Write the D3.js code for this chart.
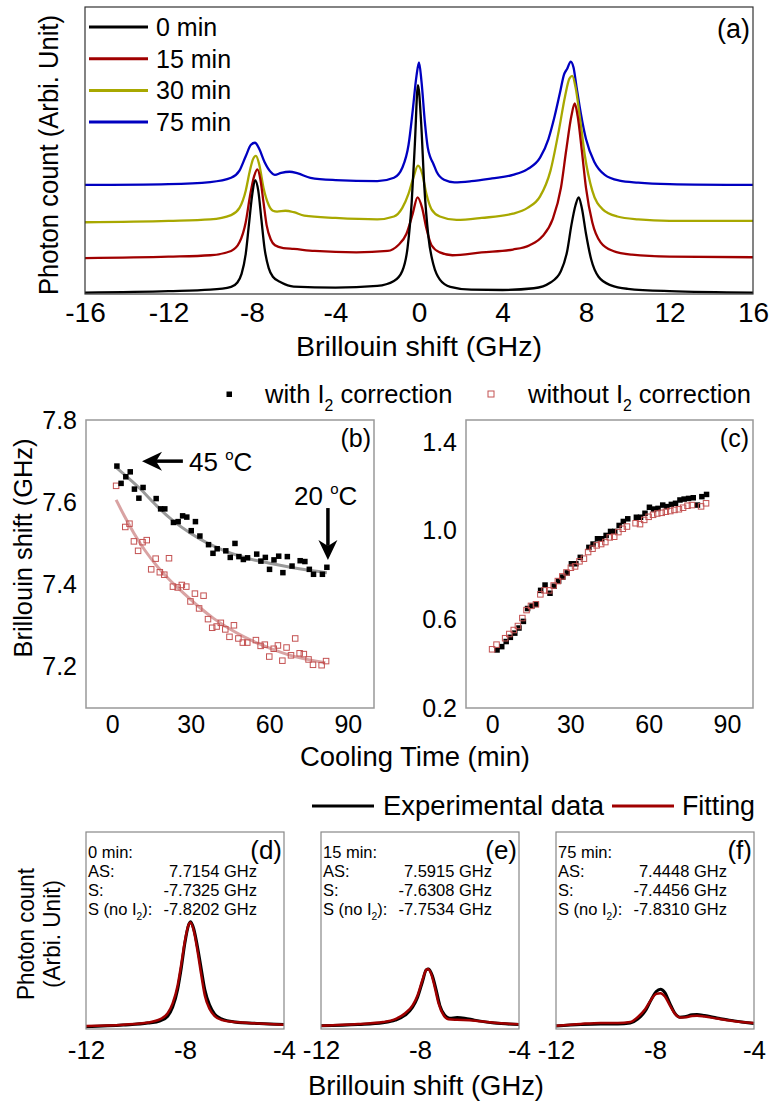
<!DOCTYPE html>
<html>
<head>
<meta charset="utf-8">
<script src="https://cdn.jsdelivr.net/npm/d3@7"></script>
<style>
  body { margin: 0; background: #fff; }
  text { font-family: "Liberation Sans", Arial, sans-serif; fill: #000; }
</style>
</head>
<body>
<div id="fig"></div>
<script>
// ---------- Data: panel (a), spectra [shift GHz, counts arb.] ----------
const seriesNames = ["0 min", "15 min", "30 min", "75 min"];
const seriesColors = ["#000000", "#a00000", "#a8a800", "#0000c0"];

const spec0 = [[-16,0.5],[-12,1],[-10,1.5],[-9,2.5],[-8.7,4],[-8.5,7],[-8.3,14],[-8.15,24],[-8,34],[-7.85,39.7],
  [-7.7,36],[-7.55,26],[-7.4,16],[-7.2,9],[-7,6],[-6.6,4],[-6,2.6],[-4,2.2],[-2,2.8],[-1.2,4.5],[-0.8,8],
  [-0.55,16],[-0.35,32],[-0.2,52],[-0.05,72.8],[0.1,60],[0.25,38],[0.45,20],[0.7,10],[1,5],[1.5,2.5],[2.5,1.5],
  [4,1.4],[5.5,2],[6.3,4],[6.8,8],[7.1,15],[7.3,24],[7.5,31],[7.65,33.7],[7.8,30],[8,21],[8.25,12],[8.6,6],
  [9.2,3],[10,1.8],[12,1],[16,0.5]];
const spec15 = [[-16,12.5],[-12,13],[-10,13.5],[-9,15],[-8.6,18],[-8.3,25],[-8.1,34],[-7.9,41],[-7.74,43.4],
  [-7.6,40],[-7.45,32],[-7.3,24],[-7.1,19],[-6.9,17],[-6.5,16],[-6,15.7],[-5,15],[-3,14.5],[-1.5,15],[-1,17],
  [-0.6,21],[-0.3,28],[-0.07,33.7],[0.15,30],[0.35,23],[0.6,17],[1,14.5],[1.6,13.5],[3,14.5],[4.5,15.5],
  [5.3,17],[5.9,20],[6.4,26],[6.8,37],[7.05,50],[7.3,62],[7.46,66.4],[7.6,62],[7.8,50],[8,37],[8.3,25],
  [8.7,18],[9.3,15],[10.2,13.7],[12,13],[16,12.8]];
const spec30 = [[-16,25],[-12,25.5],[-10,26],[-9,27.5],[-8.6,30],[-8.3,36],[-8.1,43],[-7.95,47],[-7.81,48.1],
  [-7.65,45],[-7.45,37],[-7.2,31],[-7,29],[-6.8,28.7],[-6.4,29],[-6,28.5],[-5.5,27.3],[-4,26.5],[-2,26],
  [-1.2,27],[-0.8,30],[-0.5,35],[-0.25,41],[-0.05,44.7],[0.15,42],[0.35,35],[0.6,29.5],[1,27],[1.8,25.8],
  [3,26.5],[4.5,28],[5.2,30],[5.8,34],[6.3,43],[6.7,57],[7,69],[7.2,75],[7.34,76],[7.5,72],[7.7,62],
  [7.95,48],[8.3,36],[8.8,29.5],[9.5,27],[10.5,26],[12,25.5],[16,25.5]];
const spec75 = [[-16,38],[-12,38.3],[-10,39],[-9,40.5],[-8.6,43],[-8.3,48],[-8.05,52],[-7.86,52.7],[-7.65,50.5],
  [-7.4,46],[-7.1,42.5],[-6.9,41.5],[-6.6,42.2],[-6.2,42.6],[-5.8,42],[-5.2,40.5],[-4,39.7],[-2,39.3],
  [-1.2,40.5],[-0.8,44],[-0.5,52],[-0.3,64],[-0.12,76],[0,80.7],[0.12,74],[0.28,60],[0.42,51],[0.55,47.5],
  [0.68,45.5],[0.85,42.5],[1.2,39.8],[1.7,38.9],[2.5,39.3],[3.5,40.3],[4.5,41.5],[5.2,43.5],[5.8,47.5],
  [6.2,54],[6.5,62],[6.75,70],[6.95,76.5],[7.1,78.5],[7.27,81],[7.4,79],[7.55,72],[7.75,63],[8,54],
  [8.4,46],[8.9,41.5],[9.6,39.5],[10.5,38.8],[12,38.3],[16,38]];
const spectraA = [spec0, spec15, spec30, spec75];
const ticksA = [-16, -12, -8, -4, 0, 4, 8, 12, 16];

// ---------- Data: panel (b), Brillouin shift [min, GHz] ----------
const shiftWithI2 = [[1.8,7.688],[3.4,7.646],[5.2,7.662],[6.9,7.674],[8.5,7.632],[10.2,7.61],[11.8,7.636],
  [16.8,7.609],[18.5,7.584],[20.1,7.584],[23.4,7.551],[25.2,7.553],[26.9,7.567],[28.5,7.564],[30.2,7.531],
  [31.8,7.553],[33.5,7.518],[36.8,7.497],[38.5,7.476],[40.1,7.487],[43.4,7.482],[45.1,7.466],[46.9,7.5],
  [48.4,7.468],[50.1,7.461],[51.7,7.465],[55.2,7.474],[56.8,7.457],[58.5,7.466],[60.1,7.437],[61.8,7.46],
  [63.6,7.469],[65.2,7.429],[66.9,7.468],[68.7,7.445],[71.8,7.458],[73.6,7.456],[75.3,7.437],[76.9,7.425],
  [80.3,7.425],[82,7.442]];
const shiftNoI2 = [[1.5,7.64],[5,7.54],[6.6,7.548],[8.3,7.505],[9.9,7.482],[11.6,7.503],[13.2,7.508],
  [14.9,7.437],[16.6,7.463],[18.2,7.43],[19.9,7.424],[21.7,7.464],[23.2,7.395],[25,7.393],[26.6,7.399],
  [28.3,7.395],[29.9,7.359],[31.6,7.378],[33.2,7.342],[34.9,7.373],[36.6,7.316],[38.2,7.295],[39.9,7.298],
  [41.5,7.307],[43.2,7.291],[44.8,7.273],[46.5,7.301],[48.2,7.269],[49.9,7.259],[51.6,7.259],[54.9,7.265],
  [56.7,7.251],[58.3,7.254],[60,7.225],[61.7,7.244],[63.3,7.252],[65,7.215],[66.6,7.247],[68.3,7.228],
  [69.9,7.269],[71.6,7.233],[73.2,7.231],[75,7.218],[76.7,7.205],[80,7.204],[81.7,7.214]];
const fitWithI2 = [[1.8,7.683],[6,7.66],[10.7,7.634],[17,7.59],[23.4,7.553],[30,7.524],[36.2,7.5],
  [42.5,7.483],[48.9,7.468],[55,7.458],[61.7,7.45],[68,7.442],[74.4,7.435],[82,7.429]];
const fitNoI2 = [[1.5,7.606],[4.5,7.568],[8.2,7.525],[12.5,7.482],[17.1,7.444],[22,7.41],[27.3,7.379],
  [33,7.346],[38.7,7.317],[44.5,7.293],[50.2,7.273],[56,7.256],[61.7,7.241],[66.8,7.23],[71.8,7.221],[81.4,7.21]];
const ticksTime = [0, 30, 60, 90];
const ticksB = [7.2, 7.4, 7.6, 7.8];

// ---------- Data: panel (c) [min, GHz] ----------
const valueWithI2 = [[1.9,0.462],[3.7,0.477],[5.4,0.5],[7,0.519],[8.7,0.538],[10.3,0.561],[12,0.591],
  [13.6,0.649],[15.3,0.661],[16.9,0.668],[18.6,0.731],[20.3,0.755],[22.2,0.718],[23.8,0.75],[25.5,0.773],
  [27.1,0.791],[28.8,0.81],[30.4,0.851],[32.1,0.851],[33.8,0.88],[37.1,0.925],[38.7,0.94],[40.4,0.964],
  [42,0.964],[43.7,0.979],[45.4,0.997],[47,0.997],[48.7,1.024],[50.3,1.042],[52,1.054],[55.3,1.061],
  [56.9,1.061],[58.6,1.079],[60.3,1.106],[61.9,1.098],[63.6,1.101],[65.4,1.116],[67,1.109],[68.7,1.119],
  [70.3,1.124],[72,1.139],[73.6,1.143],[75.3,1.146],[77.1,1.149],[78.7,1.116],[80.4,1.154],[82.2,1.164]];
const valueNoI2 = [[0,0.465],[1.7,0.486],[5,0.515],[6.6,0.534],[8.3,0.552],[9.9,0.57],[11.6,0.606],
  [13.2,0.642],[14.9,0.661],[16.8,0.668],[18.5,0.713],[20.1,0.731],[21.9,0.731],[23.6,0.753],[25.2,0.773],
  [26.9,0.794],[28.5,0.812],[30.2,0.833],[31.8,0.839],[33.5,0.862],[35.2,0.874],[36.8,0.904],[38.5,0.919],
  [40.1,0.934],[41.8,0.94],[43.4,0.949],[45.1,0.97],[46.8,0.973],[48.4,0.994],[50.1,1.009],[51.7,1.019],
  [55,1.034],[56.7,1.03],[58.3,1.049],[60,1.063],[61.7,1.072],[63.3,1.078],[65,1.081],[66.6,1.086],
  [68.3,1.089],[69.9,1.094],[71.6,1.097],[73.2,1.104],[74.9,1.113],[76.6,1.116],[80.1,1.11],[82,1.124]];
const ticksC = [0.2, 0.6, 1.0, 1.4];

// ---------- Data: panels (d)-(f), anti-Stokes region [GHz, counts arb.] ----------
const expD = [[-12,1.2],[-10.5,2],[-9.5,3],[-9,4.2],[-8.7,6.5],[-8.5,11],[-8.3,20],[-8.15,31],[-8,44],
  [-7.85,53],[-7.77,54.5],[-7.65,51],[-7.5,42],[-7.35,31],[-7.2,20],[-7,12],[-6.8,7.5],[-6.5,5],[-6,3.6],
  [-5,2.8],[-4,2.3]];
const fitD = [[-12,1.5],[-10.5,2.2],[-9.5,3.3],[-9,5],[-8.7,8],[-8.5,13],[-8.3,22],[-8.15,33],[-8,45],
  [-7.85,53],[-7.78,54],[-7.65,50],[-7.5,40],[-7.35,28],[-7.2,17],[-7,10],[-6.8,6.5],[-6.5,4.5],[-6,3.5],
  [-5,2.8],[-4,2.2]];
const expE = [[-12,1.7],[-10.5,2.3],[-9.5,3.2],[-9,4.5],[-8.6,7],[-8.3,11],[-8.1,16],[-7.9,24],[-7.75,30],
  [-7.65,30.5],[-7.5,27],[-7.35,20],[-7.2,12],[-7,7],[-6.8,5.5],[-6.5,5.8],[-6.2,5.5],[-5.8,4.5],[-5,3],[-4,2.3]];
const fitE = [[-12,1.6],[-10.5,2.5],[-9.5,3.5],[-9,5],[-8.6,8],[-8.3,12],[-8.1,17],[-7.9,25],[-7.75,30],
  [-7.68,30.5],[-7.55,28],[-7.4,21],[-7.25,13],[-7.05,7],[-6.85,5],[-6.5,4.7],[-6,4.5],[-5,3.2],[-4,2.4]];
const expF = [[-12,1.5],[-11,2.3],[-10.2,2.6],[-9.5,2.5],[-9,3],[-8.7,5],[-8.4,9],[-8.15,15],[-7.95,19],
  [-7.78,20.2],[-7.6,18.5],[-7.4,13],[-7.2,8],[-7,6],[-6.8,6.2],[-6.5,7.2],[-6.3,7.3],[-6,6.8],[-5.5,5.6],
  [-5,4.5],[-4.5,3.6],[-4,2.8]];
const fitF = [[-12,1.6],[-11,2.6],[-10.2,3.1],[-9.5,3],[-9,3.5],[-8.7,6],[-8.4,10],[-8.15,15],[-7.95,17.8],
  [-7.78,18.2],[-7.6,16.5],[-7.4,12],[-7.2,7.8],[-7,5.8],[-6.8,5.9],[-6.5,6.6],[-6.3,6.7],[-6,6.3],[-5.5,5.3],
  [-5,4.3],[-4.5,3.5],[-4,3]];
const panelLabels = ["(d)", "(e)", "(f)"];
const panelTimes = ["0 min:", "15 min:", "75 min:"];
const asValues = ["7.7154 GHz", "7.5915 GHz", "7.4448 GHz"];
const sValues = ["-7.7325 GHz", "-7.6308 GHz", "-7.4456 GHz"];
const sNoI2Values = ["-7.8202 GHz", "-7.7534 GHz", "-7.8310 GHz"];
const expSeries = [expD, expE, expF];
const fitSeries = [fitD, fitE, fitF];
const ticksDF = [-12, -8, -4];

// ---------- Layout ----------
const svgWidth = 772, svgHeight = 1103;
const svg = d3.select("#fig").append("svg")
  .attr("width", svgWidth)
  .attr("height", svgHeight)
  .style("background", "#fff");

const fontFam = '"Liberation Sans", Arial, sans-serif';

// add x axis labels only (no ticks, no domain line)
function bottomLabels(scale, y, values, size, pad, fmt) {
  const g = svg.append("g")
    .attr("transform", `translate(0,${y})`)
    .call(d3.axisBottom(scale).tickValues(values).tickSize(0).tickPadding(pad).tickFormat(fmt));
  g.select(".domain").remove();
  g.attr("font-family", fontFam).attr("font-size", size);
  g.selectAll("text").attr("fill", "#000");
  return g;
}
function leftLabels(scale, x, values, size, pad, fmt) {
  const g = svg.append("g")
    .attr("transform", `translate(${x},0)`)
    .call(d3.axisLeft(scale).tickValues(values).tickSize(0).tickPadding(pad).tickFormat(fmt));
  g.select(".domain").remove();
  g.attr("font-family", fontFam).attr("font-size", size);
  g.selectAll("text").attr("fill", "#000");
  return g;
}
function frame(x0, y0, x1, y1, color, w) {
  svg.append("rect")
    .attr("x", x0).attr("y", y0)
    .attr("width", x1 - x0).attr("height", y1 - y0)
    .attr("fill", "none").attr("stroke", color).attr("stroke-width", w);
}
// text with subscript "2" after "I"
function subText(x, y, size, before, after, anchor) {
  const t = svg.append("text").attr("x", x).attr("y", y)
    .attr("font-size", size).attr("text-anchor", anchor || "start");
  t.append("tspan").text(before);
  t.append("tspan").attr("font-size", size * 0.62).attr("dy", size * 0.3).text("2");
  t.append("tspan").attr("dy", -size * 0.3).text(after);
  return t;
}
const fmtPlain = d => String(d);
const fmt1 = d3.format(".1f");

// ---------- Panel (a) ----------
const xA = d3.scaleLinear().domain([-16, 16]).range([85, 753]);
const yA = d3.scaleLinear().domain([0, 100]).range([294, 7]);
const lineA = d3.line().x(d => xA(d[0])).y(d => yA(d[1])).curve(d3.curveMonotoneX);

for (let i = spectraA.length - 1; i >= 0; i--) {
  svg.append("path").datum(spectraA[i])
    .attr("d", lineA)
    .attr("fill", "none")
    .attr("stroke", seriesColors[i])
    .attr("stroke-width", 2.3);
}
frame(85, 7, 753, 294, "#333", 1.2);
bottomLabels(xA, 294, ticksA, 28, 8, fmtPlain);

svg.append("text").attr("x", 419).attr("y", 356)
  .attr("font-size", 28).attr("text-anchor", "middle")
  .attr("textLength", 246).attr("lengthAdjust", "spacingAndGlyphs")
  .text("Brillouin shift (GHz)");
svg.append("text")
  .attr("transform", "translate(58,155) rotate(-90)")
  .attr("font-size", 27).attr("text-anchor", "middle")
  .attr("textLength", 280).attr("lengthAdjust", "spacingAndGlyphs")
  .text("Photon count (Arbi. Unit)");
svg.append("text").attr("x", 750).attr("y", 38)
  .attr("font-size", 27).attr("text-anchor", "end").text("(a)");

// legend (a)
const legA = svg.append("g");
seriesNames.forEach((name, i) => {
  const cy = 27 + i * 31.7;
  legA.append("line").attr("x1", 89).attr("x2", 148).attr("y1", cy).attr("y2", cy)
    .attr("stroke", seriesColors[i]).attr("stroke-width", 3);
  legA.append("text").attr("x", 156).attr("y", cy + 9)
    .attr("font-size", 25).text(name);
});

// ---------- Panels (b) and (c) ----------
const yTop = 420, yBot = 708;
const xB = d3.scaleLinear().domain([-10, 100]).range([86, 374]);
const xC = d3.scaleLinear().domain([-10, 100]).range([466, 753]);
const yB = d3.scaleLinear().domain([7.1, 7.8]).range([yBot, yTop]);
const yC = d3.scaleLinear().domain([0.2, 1.5]).range([yBot, yTop]);

const fitColorWith = "#9a9a9a", fitColorNo = "#d9a3a3";
const openColor = "#c45252";

const lineB = d3.line().x(d => xB(d[0])).y(d => yB(d[1])).curve(d3.curveBasis);
svg.append("path").datum(fitNoI2).attr("d", lineB)
  .attr("fill", "none").attr("stroke", fitColorNo).attr("stroke-width", 3);
svg.append("path").datum(fitWithI2).attr("d", lineB)
  .attr("fill", "none").attr("stroke", fitColorWith).attr("stroke-width", 3);

function openSquares(data, xs, ys, s) {
  svg.append("g").selectAll("rect").data(data).enter().append("rect")
    .attr("x", d => xs(d[0]) - s / 2).attr("y", d => ys(d[1]) - s / 2)
    .attr("width", s).attr("height", s)
    .attr("fill", "none").attr("stroke", openColor).attr("stroke-width", 1);
}
function filledSquares(data, xs, ys, s) {
  svg.append("g").selectAll("rect").data(data).enter().append("rect")
    .attr("x", d => xs(d[0]) - s / 2).attr("y", d => ys(d[1]) - s / 2)
    .attr("width", s).attr("height", s)
    .attr("fill", "#000");
}
openSquares(shiftNoI2, xB, yB, 5.5);
filledSquares(shiftWithI2, xB, yB, 5.5);
filledSquares(valueWithI2, xC, yC, 5.5);
openSquares(valueNoI2, xC, yC, 5.5);

frame(86, yTop, 374, yBot, "#999", 1.5);
frame(466, yTop, 753, yBot, "#999", 1.5);

bottomLabels(xB, yBot, ticksTime, 25, 7, fmtPlain);
bottomLabels(xC, yBot, ticksTime, 25, 7, fmtPlain);
leftLabels(yB, 86, ticksB, 25, 9, fmt1);
leftLabels(yC, 466, ticksC, 25, 9, fmt1);

svg.append("text").attr("x", 371).attr("y", 447)
  .attr("font-size", 25).attr("text-anchor", "end").text("(b)");
svg.append("text").attr("x", 749).attr("y", 447)
  .attr("font-size", 25).attr("text-anchor", "end").text("(c)");

svg.append("text").attr("x", 415).attr("y", 766)
  .attr("font-size", 27).attr("text-anchor", "middle")
  .attr("textLength", 230).attr("lengthAdjust", "spacingAndGlyphs")
  .text("Cooling Time (min)");
svg.append("text")
  .attr("transform", "translate(32,548) rotate(-90)")
  .attr("font-size", 26).attr("text-anchor", "middle")
  .attr("textLength", 219).attr("lengthAdjust", "spacingAndGlyphs")
  .text("Brillouin shift (GHz)");

// legend (b)/(c)
svg.append("rect").attr("x", 226.5).attr("y", 391.5).attr("width", 5.5).attr("height", 5.5).attr("fill", "#000");
subText(265, 403, 25.5, "with I", " correction");
svg.append("rect").attr("x", 488).attr("y", 391).attr("width", 6).attr("height", 6)
  .attr("fill", "none").attr("stroke", openColor).attr("stroke-width", 1);
subText(528, 403, 25.5, "without I", " correction");

// temperature annotations (positions in data units of panel b)
const arrowLeft = { from: [27, 7.70], to: [11.4, 7.70] };
const arrowDown = { from: [82.4, 7.586], to: [82.4, 7.46] };
function arrow(a, horizontal) {
  const x1 = xB(a.from[0]), y1 = yB(a.from[1]);
  const x2 = xB(a.to[0]), y2 = yB(a.to[1]);
  const len = 20, half = 9.5, notch = 14;
  if (horizontal) {
    svg.append("line").attr("x1", x1).attr("y1", y1).attr("x2", x2 + notch).attr("y2", y2)
      .attr("stroke", "#000").attr("stroke-width", 3.5);
    svg.append("path")
      .attr("d", `M${x2},${y2} L${x2 + len},${y2 - half} L${x2 + notch},${y2} L${x2 + len},${y2 + half} Z`)
      .attr("fill", "#000");
  } else {
    svg.append("line").attr("x1", x1).attr("y1", y1).attr("x2", x2).attr("y2", y2 - notch)
      .attr("stroke", "#000").attr("stroke-width", 3.5);
    svg.append("path")
      .attr("d", `M${x2},${y2} L${x2 - half},${y2 - len} L${x2},${y2 - notch} L${x2 + half},${y2 - len} Z`)
      .attr("fill", "#000");
  }
}
arrow(arrowLeft, true);
arrow(arrowDown, false);

function degText(x, y, num) {
  const t = svg.append("text").attr("x", x).attr("y", y).attr("font-size", 26);
  t.append("tspan").text(num + " ");
  t.append("tspan").attr("font-size", 15).attr("dy", -11).text("o");
  t.append("tspan").attr("dy", 11).text("C");
}
degText(189, 471, "45");
degText(294, 505, "20");

// ---------- Panels (d)-(f) ----------
const dfTop = 832, dfBot = 1029, dfW = 198;
const yDF = d3.scaleLinear().domain([0, 100]).range([dfBot, dfTop]);

panelLabels.forEach((lab, i) => {
  const L = 86 + i * 235;
  const xs = d3.scaleLinear().domain([-12, -4]).range([L, L + dfW]);
  const ln = d3.line().x(d => xs(d[0])).y(d => yDF(d[1])).curve(d3.curveMonotoneX);
  svg.append("path").datum(expSeries[i]).attr("d", ln)
    .attr("fill", "none").attr("stroke", "#000").attr("stroke-width", 3);
  svg.append("path").datum(fitSeries[i]).attr("d", ln)
    .attr("fill", "none").attr("stroke", "#a00000").attr("stroke-width", 2.5);
  frame(L, dfTop, L + dfW, dfBot, "#888", 1.2);
  bottomLabels(xs, dfBot, ticksDF, 26, 12, fmtPlain);

  svg.append("text").attr("x", L + dfW - 2).attr("y", dfTop + 27)
    .attr("font-size", 26).attr("text-anchor", "end").text(lab);

  const fs = 16.5;
  svg.append("text").attr("x", L + 2).attr("y", dfTop + 26).attr("font-size", fs).text(panelTimes[i]);
  svg.append("text").attr("x", L + 2).attr("y", dfTop + 45).attr("font-size", fs).text("AS:");
  svg.append("text").attr("x", L + 2).attr("y", dfTop + 64).attr("font-size", fs).text("S:");
  subText(L + 2, dfTop + 83, fs, "S (no I", "):");
  svg.append("text").attr("x", L + 171).attr("y", dfTop + 45).attr("font-size", fs)
    .attr("text-anchor", "end").text(asValues[i]);
  svg.append("text").attr("x", L + 171).attr("y", dfTop + 64).attr("font-size", fs)
    .attr("text-anchor", "end").text(sValues[i]);
  svg.append("text").attr("x", L + 171).attr("y", dfTop + 83).attr("font-size", fs)
    .attr("text-anchor", "end").text(sNoI2Values[i]);
});

// legend (d)-(f)
svg.append("line").attr("x1", 312).attr("x2", 374).attr("y1", 806).attr("y2", 806)
  .attr("stroke", "#000").attr("stroke-width", 3);
svg.append("text").attr("x", 383).attr("y", 815).attr("font-size", 27)
  .attr("textLength", 221).attr("lengthAdjust", "spacingAndGlyphs").text("Experimental data");
svg.append("line").attr("x1", 612).attr("x2", 674).attr("y1", 806).attr("y2", 806)
  .attr("stroke", "#a00000").attr("stroke-width", 3);
svg.append("text").attr("x", 682).attr("y", 815).attr("font-size", 27)
  .attr("textLength", 73).attr("lengthAdjust", "spacingAndGlyphs").text("Fitting");

svg.append("text").attr("x", 426).attr("y", 1095)
  .attr("font-size", 27).attr("text-anchor", "middle")
  .attr("textLength", 236).attr("lengthAdjust", "spacingAndGlyphs")
  .text("Brillouin shift (GHz)");
svg.append("text")
  .attr("transform", "translate(34,934) rotate(-90)")
  .attr("font-size", 24).attr("text-anchor", "middle")
  .attr("textLength", 132).attr("lengthAdjust", "spacingAndGlyphs")
  .text("Photon count");
svg.append("text")
  .attr("transform", "translate(60,934) rotate(-90)")
  .attr("font-size", 24).attr("text-anchor", "middle")
  .attr("textLength", 108).attr("lengthAdjust", "spacingAndGlyphs")
  .text("(Arbi. Unit)");
</script>
</body>
</html>
